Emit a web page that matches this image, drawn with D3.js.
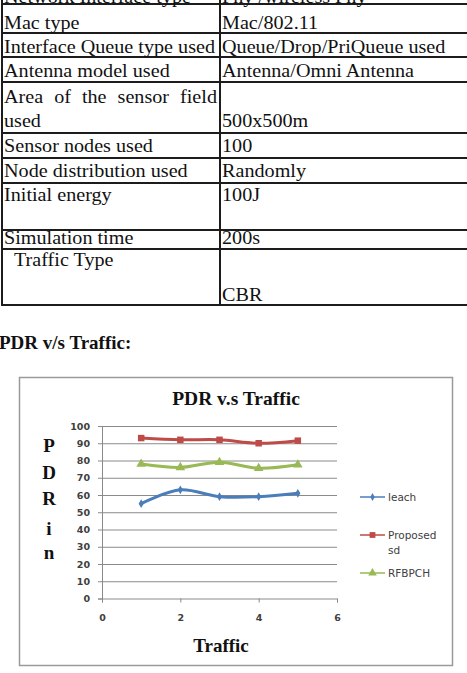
<!DOCTYPE html>
<html>
<head>
<meta charset="utf-8">
<script src="https://cdn.jsdelivr.net/npm/d3@7/dist/d3.min.js"></script>
<style>
    html, body { margin: 0; padding: 0; background: #fff; }
    svg { display: block; }
</style>
</head>
<body>
<div id="page"></div>
<script>
// Simulation parameters table
const paramNames = [
    "Network Interface type",
    "Mac type",
    "Interface Queue type used",
    "Antenna model used",
    "Area of the sensor field\nused",
    "Sensor nodes used",
    "Node distribution used",
    "Initial energy",
    "Simulation time",
    "Traffic Type"
];
const paramValues = [
    "Phy /wireless Phy",
    "Mac/802.11",
    "Queue/Drop/PriQueue used",
    "Antenna/Omni Antenna",
    "500x500m",
    "100",
    "Randomly",
    "100J",
    "200s",
    "CBR"
];

// Chart data
const traffic = [1, 2, 3, 4, 5];
const leach = [55, 63, 59, 59, 61];
const proposedSd = [93, 92, 92, 90, 91.5];
const rfbpch = [78, 76, 79, 75.5, 77.5];
const seriesNames = ["leach", "Proposed\nsd", "RFBPCH"];
const xTicks = [0, 2, 4, 6];
const yTicks = [0, 10, 20, 30, 40, 50, 60, 70, 80, 90, 100];
const chartTitle = "PDR v.s Traffic";
const xTitle = "Traffic";
const yTitle = ["P", "D", "R", "i", "n"];
const heading = "PDR v/s Traffic:";

const W = 467, H = 673;
const serif = "'Liberation Serif', 'Times New Roman', serif";
const sans = "'DejaVu Sans', Verdana, sans-serif";

const svg = d3.select('#page')
    .append('svg')
    .attr('width', W)
    .attr('height', H)
    .attr('viewBox', `0 0 ${W} ${H}`);

svg.append('rect').attr('width', W).attr('height', H).attr('fill', '#fff');

// ---- table ----
// horizontal rule positions and text baselines (layout only)
const rowLines = [4, 33, 57, 82, 133, 158, 183, 230, 249, 305];
const rowText = [
    { y: 2.5, vy: 2.5 },
    { y: 29, vy: 29 },
    { y: 53, vy: 53 },
    { y: 77, vy: 77 },
    { y: 103, vy: 127, justify: true },
    { y: 152, vy: 152 },
    { y: 177, vy: 177 },
    { y: 201, vy: 201 },
    { y: 244, vy: 244 },
    { y: 266, vy: 301, indent: 10 }
];
const colLeft = 2, colMid = 220, cellPad = 2;
const stretch = 1.12;   // the scanned table text is a bit wider than tall

function drawTable() {
    const g = svg.append('g').attr('class', 'table');

    g.selectAll('line.row')
        .data(rowLines)
        .join('line')
        .attr('class', 'row')
        .attr('x1', colLeft - 1).attr('x2', W + 2)
        .attr('y1', d => d).attr('y2', d => d)
        .attr('stroke', '#1c1c1c')
        .attr('stroke-width', 2);

    [colLeft, colMid].forEach(x => {
        g.append('line')
            .attr('x1', x).attr('x2', x)
            .attr('y1', -2).attr('y2', rowLines[rowLines.length - 1])
            .attr('stroke', '#1c1c1c')
            .attr('stroke-width', 2);
    });

    const cell = (x, y, str) => g.append('text')
        .attr('transform', `translate(${x},${y}) scale(${stretch},1)`)
        .attr('font-family', serif)
        .attr('font-size', 18)
        .attr('fill', '#111')
        .text(str);

    paramNames.forEach((name, i) => {
        const lay = rowText[i];
        const lines = name.split('\n');
        lines.forEach((ln, j) => {
            const y = lay.y + j * 24;
            const x0 = colLeft + cellPad + (lay.indent || 0);
            if (lay.justify && j < lines.length - 1) {
                // spread the words across the cell, like justified text
                const words = ln.split(' ');
                const tmp = words.map(w => cell(0, 0, w));
                const widths = tmp.map(t => t.node().getComputedTextLength() * stretch);
                const gap = (colMid - 3 - x0 - d3.sum(widths)) / (words.length - 1);
                let x = x0;
                tmp.forEach((t, k) => {
                    t.attr('transform', `translate(${x},${y}) scale(${stretch},1)`);
                    x += widths[k] + gap;
                });
            } else {
                cell(x0, y, ln);
            }
        });
        cell(colMid + cellPad, lay.vy, paramValues[i]);
    });
}

// ---- heading ----
function drawHeading() {
    svg.append('text')
        .attr('x', -1)
        .attr('y', 349)
        .attr('font-family', serif)
        .attr('font-weight', 'bold')
        .attr('font-size', 19)
        .attr('fill', '#111')
        .text(heading);
}

// ---- chart ----
function drawChart() {
    const box = { x: 19.5, y: 377.5, w: 433, h: 288 };
    svg.append('rect')
        .attr('x', box.x).attr('y', box.y)
        .attr('width', box.w).attr('height', box.h)
        .attr('fill', '#fff')
        .attr('stroke', '#9a9a9a')
        .attr('stroke-width', 1.5);

    const x = d3.scaleLinear().domain([0, 6]).range([102, 337]);
    const y = d3.scaleLinear().domain([0, 100]).range([598.5, 426]);

    const g = svg.append('g').attr('class', 'chart');

    const tickText = s => s.selectAll('text')
        .attr('font-family', sans)
        .attr('font-weight', 'bold')
        .attr('font-size', 9.5)
        .attr('fill', '#404040');

    // gridlines
    g.append('g')
        .attr('transform', `translate(${x(0)},0)`)
        .call(d3.axisRight(y).tickValues(yTicks.slice(1)).tickSize(x(6) - x(0)).tickFormat(''))
        .call(s => s.select('.domain').remove())
        .call(s => s.selectAll('line').attr('stroke', '#8a8a8a'));

    // y axis
    g.append('g')
        .attr('transform', `translate(${x(0)},0)`)
        .call(d3.axisLeft(y).tickValues(yTicks).tickSize(4).tickPadding(8).tickFormat(d3.format('d')))
        .call(s => s.select('.domain').attr('stroke', '#8a8a8a'))
        .call(s => s.selectAll('line').attr('stroke', '#8a8a8a'))
        .call(tickText);

    // x axis
    g.append('g')
        .attr('transform', `translate(0,${y(0)})`)
        .call(d3.axisBottom(x).tickValues(xTicks).tickSize(4).tickPadding(12).tickFormat(d3.format('d')))
        .call(s => s.select('.domain').attr('stroke', '#8a8a8a'))
        .call(s => s.selectAll('line').attr('stroke', '#8a8a8a'))
        .call(tickText);

    // titles
    g.append('text')
        .attr('x', 236).attr('y', 405)
        .attr('text-anchor', 'middle')
        .attr('font-family', serif).attr('font-weight', 'bold')
        .attr('font-size', 19.5).attr('fill', '#111')
        .text(chartTitle);

    g.append('text')
        .attr('x', 221).attr('y', 652)
        .attr('text-anchor', 'middle')
        .attr('font-family', serif).attr('font-weight', 'bold')
        .attr('font-size', 19).attr('fill', '#111')
        .text(xTitle);

    // vertical title, one letter per line (blank line between "R" and "i")
    const yTitlePos = [452, 479, 505, 535, 559];
    g.selectAll('text.ytitle')
        .data(yTitle)
        .join('text')
        .attr('class', 'ytitle')
        .attr('x', 49)
        .attr('y', (d, i) => yTitlePos[i])
        .attr('text-anchor', 'middle')
        .attr('font-family', serif).attr('font-weight', 'bold')
        .attr('font-size', 19).attr('fill', '#111')
        .text(d => d);

    // series
    const series = [
        { name: seriesNames[0], values: leach, color: '#4a7ebb', symbol: d3.symbolDiamond, size: 22 },
        { name: seriesNames[1], values: proposedSd, color: '#be4b48', symbol: d3.symbolSquare, size: 42 },
        { name: seriesNames[2], values: rfbpch, color: '#98b954', symbol: d3.symbolTriangle, size: 40 }
    ];

    const line = d3.line()
        .x((d, i) => x(traffic[i]))
        .y(d => y(d))
        .curve(d3.curveCatmullRom.alpha(0.5));

    series.forEach(s => {
        const sg = g.append('g');
        sg.append('path')
            .attr('d', line(s.values))
            .attr('fill', 'none')
            .attr('stroke', s.color)
            .attr('stroke-width', 3)
            .attr('stroke-linejoin', 'round');
        sg.selectAll('path.pt')
            .data(s.values)
            .join('path')
            .attr('class', 'pt')
            .attr('transform', (d, i) => `translate(${x(traffic[i])},${y(d)})`)
            .attr('d', d3.symbol().type(s.symbol).size(s.size))
            .attr('fill', s.color);
    });

    // legend
    const legendY = [497, 535, 573];
    const lg = g.append('g').attr('class', 'legend');
    series.forEach((s, i) => {
        const ly = legendY[i];
        lg.append('line')
            .attr('x1', 360).attr('x2', 385)
            .attr('y1', ly).attr('y2', ly)
            .attr('stroke', s.color).attr('stroke-width', 1.5);
        lg.append('path')
            .attr('transform', `translate(372.5,${ly})`)
            .attr('d', d3.symbol().type(s.symbol).size(s.size * 0.8))
            .attr('fill', s.color);
        s.name.split('\n').forEach((t, j) => {
            lg.append('text')
                .attr('x', 388).attr('y', ly + 4 + j * 15)
                .attr('font-family', sans)
                .attr('font-size', 10.5)
                .attr('fill', '#404040')
                .text(t);
        });
    });
}

drawTable();
drawHeading();
drawChart();
</script>
</body>
</html>
